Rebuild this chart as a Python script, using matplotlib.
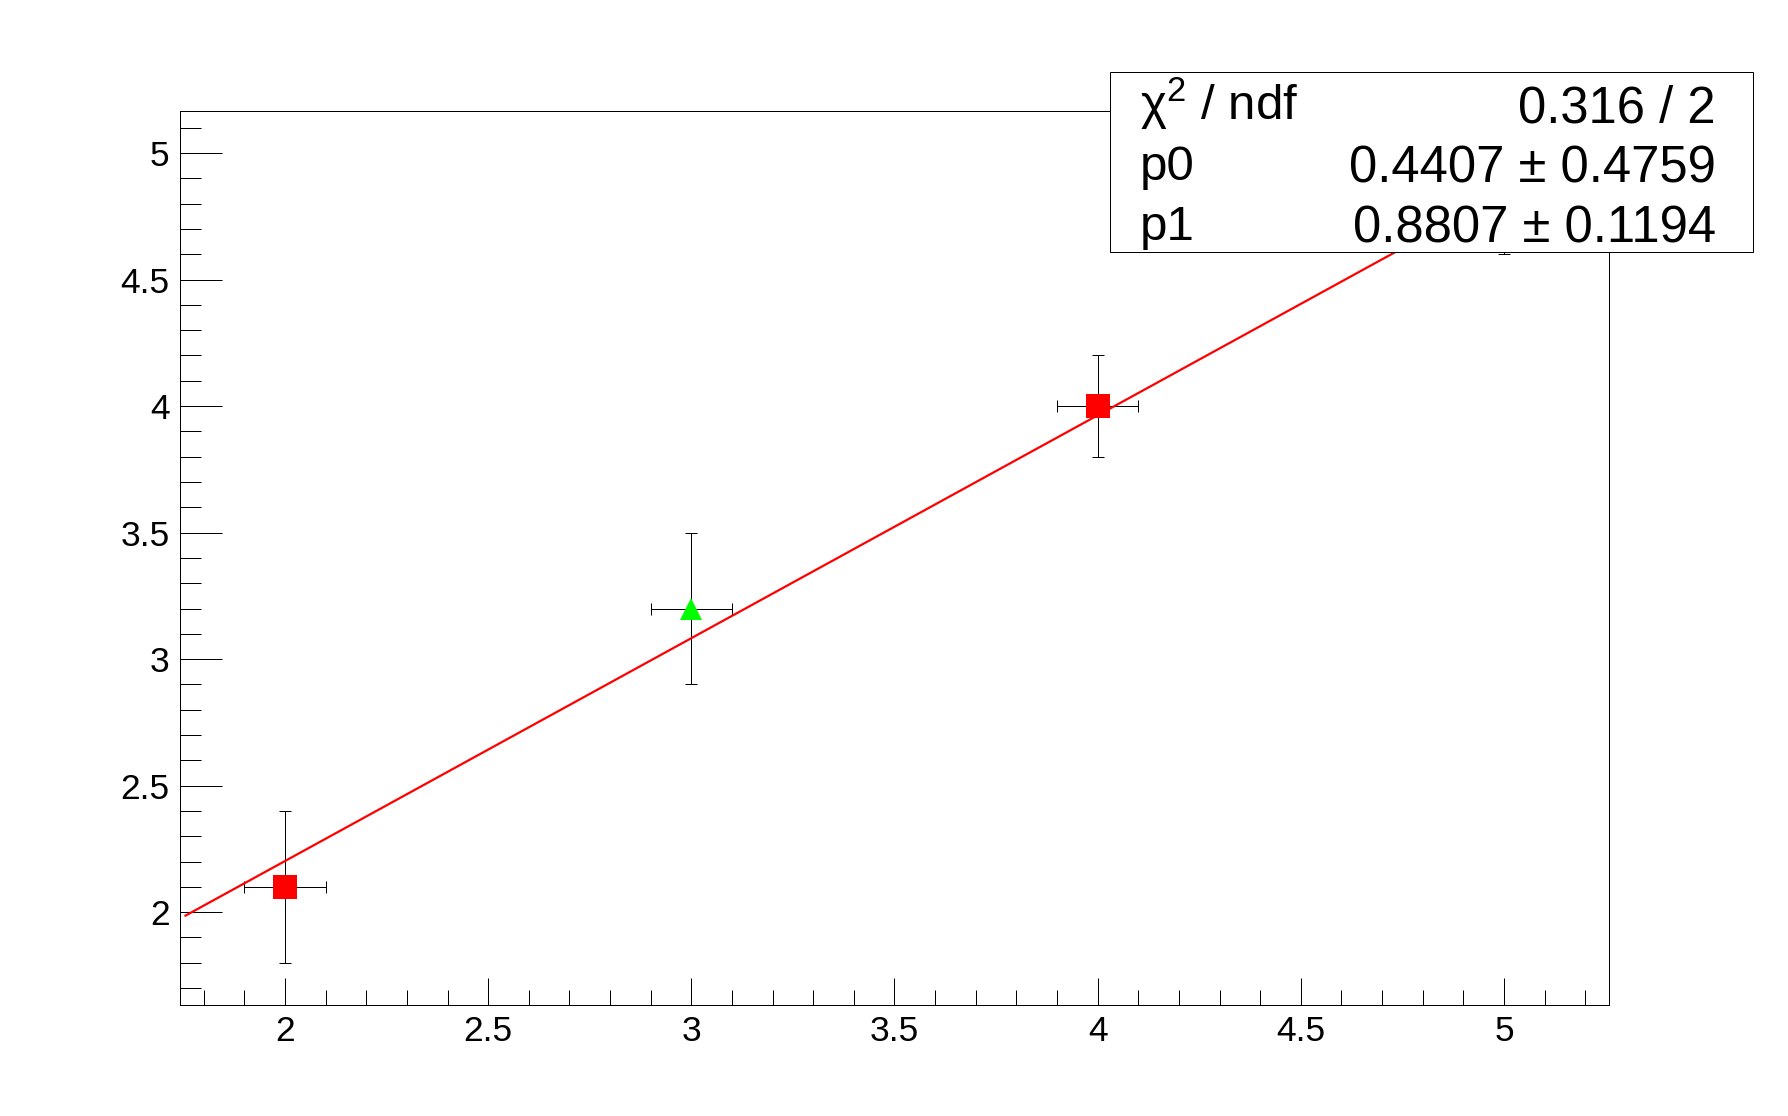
import matplotlib
matplotlib.use("Agg")
import matplotlib.pyplot as plt
from matplotlib.ticker import MultipleLocator, FuncFormatter
from matplotlib.patches import Rectangle
import numpy as np

plt.rcParams['font.family'] = ['Liberation Sans', 'DejaVu Sans']
plt.rcParams['mathtext.fontset'] = 'custom'
plt.rcParams['mathtext.rm'] = 'Liberation Sans'
plt.rcParams['mathtext.it'] = 'Liberation Sans:italic'

# ---- data ----
sq_x = [2.0, 4.0]
sq_y = [2.1, 4.0]
sq_ex = [0.1, 0.1]
sq_ey = [0.3, 0.2]

tri_x = [3.0, 5.0]
tri_y = [3.2, 4.9]
tri_ex = [0.1, 0.1]
tri_ey = [0.3, 0.3]

fit_p0 = 0.4407
fit_p0_err = 0.4759
fit_p1 = 0.8807
fit_p1_err = 0.1194
chi2 = 0.316
ndf = 2
fit_range = [1.755, 5.25]

x_limits = [1.7414, 5.2586]
y_limits = [1.633, 5.165]

W, H = 1788, 1116
fig = plt.figure(figsize=(W / 100, H / 100), dpi=100)
ax = fig.add_axes([180 / W, 1 - 1005 / H, (1609 - 180) / W, (1005 - 111.3) / H])

px = 0.72  # one pixel in points

# error bars
ax.errorbar(sq_x, sq_y, xerr=sq_ex, yerr=sq_ey, fmt='none', ecolor='black',
            elinewidth=px, capsize=4.3, capthick=px, zorder=2)
ax.errorbar(tri_x, tri_y, xerr=tri_ex, yerr=tri_ey, fmt='none', ecolor='black',
            elinewidth=px, capsize=4.3, capthick=px, zorder=2)

# markers
ax.plot(sq_x, sq_y, linestyle='none', marker='s', markersize=17,
        markerfacecolor='#ff0000', markeredgewidth=0, zorder=3)
ax.plot(tri_x, tri_y, linestyle='none', marker='^', markersize=16.2,
        markerfacecolor='#00ff00', markeredgewidth=0, zorder=3)

# fit line
xf = np.linspace(fit_range[0], fit_range[1], 200)
ax.plot(xf, fit_p0 + fit_p1 * xf, color='#ff0000', linewidth=1.6, zorder=4)

ax.set_xlim(*x_limits)
ax.set_ylim(*y_limits)

fmt = FuncFormatter(lambda v, p: '%g' % round(v, 3))
ax.xaxis.set_major_locator(MultipleLocator(0.5))
ax.xaxis.set_minor_locator(MultipleLocator(0.1))
ax.yaxis.set_major_locator(MultipleLocator(0.5))
ax.yaxis.set_minor_locator(MultipleLocator(0.1))
ax.xaxis.set_major_formatter(fmt)
ax.yaxis.set_major_formatter(fmt)

ax.tick_params(axis='x', which='major', direction='in', length=27 * px, width=px,
               labelsize=25.5, pad=7.5, top=False)
ax.tick_params(axis='x', which='minor', direction='in', length=15 * px, width=px, top=False)
ax.tick_params(axis='y', which='major', direction='in', length=42 * px, width=px,
               labelsize=25.5, pad=7.5, right=False)
ax.tick_params(axis='y', which='minor', direction='in', length=21 * px, width=px, right=False)

for s in ax.spines.values():
    s.set_linewidth(px)
    s.set_color('black')

# stat box
bx0, bx1, by0, by1 = 1110, 1753, 72, 252
rect = Rectangle((bx0 / W, 1 - by1 / H), (bx1 - bx0) / W, (by1 - by0) / H,
                 transform=fig.transFigure, facecolor='white', edgecolor='black',
                 linewidth=px, zorder=10)
fig.add_artist(rect)

labels = [r'χ$^{2}$ / ndf', 'p0', 'p1']
values = ['%g / %d' % (chi2, ndf),
          '%.4f \u00b1 %.4f' % (fit_p0, fit_p0_err),
          '%.4f \u00b1 %.4f' % (fit_p1, fit_p1_err)]
baselines = [122.7, 182.7, 242.7]
for lab, val, b in zip(labels, values, baselines):
    fig.text(1140 / W, 1 - (b - 3) / H, lab, fontsize=35.5, ha='left', va='baseline',
             zorder=11)
    fig.text(1716 / W, 1 - b / H, val, fontsize=36.5, ha='right', va='baseline',
             zorder=11)

fig.savefig('out.png', dpi=100, facecolor='white')
